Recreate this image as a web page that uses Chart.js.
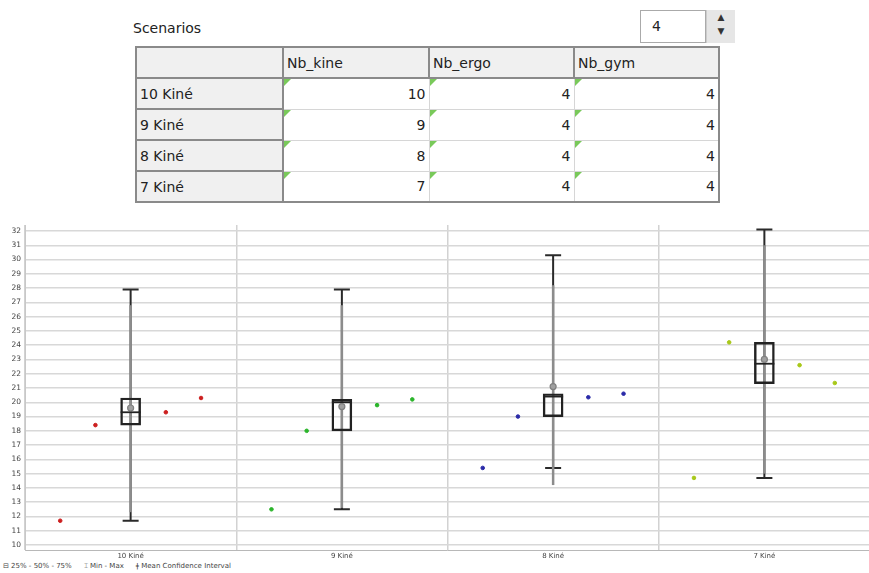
<!DOCTYPE html>
<html>
<head>
<meta charset="utf-8">
<script src="https://cdn.jsdelivr.net/npm/chart.js@4"></script>
<style>
  body { margin: 0; background: #fff; width: 869px; height: 573px; position: relative; overflow: hidden; font-family: "DejaVu Sans", sans-serif; }
  #title { position: absolute; left: 133px; top: 20px; font-size: 14px; color: #222; }
  #spin { position: absolute; left: 640px; top: 10px; width: 64px; height: 31px; border: 1px solid #aaa; background: #fff; font-size: 14px; color: #222; }
  #spin span { position: absolute; left: 11px; top: 7px; }
  #spinBtn { position: absolute; left: 706px; top: 10px; width: 28px; height: 33px; background: #e6e6e6; border-left: 1px solid #ccc; font-size: 9px; color: #333; text-align: center; line-height: 14px; }
  #scen { position: absolute; left: 135px; top: 46px; width: 583px; border-collapse: collapse; table-layout: fixed; font-size: 14px; color: #222; border: 2px solid #8a8a8a; }
  #scen td, #scen th { height: 29px; padding: 0 3px; border: 1px solid #d6d6d6; position: relative; font-weight: normal; }
  #scen th { background: #f0f0f0; text-align: left; border: 2px solid #8a8a8a; }
  #scen td.rh { background: #f0f0f0; border: 2px solid #8a8a8a; text-align: left; }
  #scen td.v { text-align: right; background: #fff; }
  #scen td.v::before { content: ""; position: absolute; left: 0; top: 0; border-top: 7px solid #79c95a; border-right: 7px solid transparent; }
  #chart { position: absolute; left: 0; top: 215px; }
  #legend { position: absolute; left: 3px; top: 562px; font-size: 7px; color: #444; white-space: nowrap; }
  #legend span { margin-right: 12px; }
</style>
</head>
<body>
<div id="title">Scenarios</div>
<div id="spin"><span>4</span></div>
<div id="spinBtn">▲<br>▼</div>
<table id="scen">
  <colgroup><col style="width:147px"><col style="width:146px"><col style="width:145px"><col style="width:145px"></colgroup>
  <thead><tr><th></th><th>Nb_kine</th><th>Nb_ergo</th><th>Nb_gym</th></tr></thead>
  <tbody id="scenBody"></tbody>
</table>
<canvas id="chart" width="875" height="347"></canvas>
<div id="legend"><span>⊟ 25% - 50% - 75%</span><span>⌶ Min - Max</span><span>ǂ Mean Confidence Interval</span></div>
<script>
// table values
const scenarioNames = ["10 Kiné", "9 Kiné", "8 Kiné", "7 Kiné"];
const nbKine = [10, 9, 8, 7];
const nbErgo = [4, 4, 4, 4];
const nbGym = [4, 4, 4, 4];

// box plot values
const categories = ["10 Kiné", "9 Kiné", "8 Kiné", "7 Kiné"];
const q1Vals = [18.4, 18.0, 19.0, 21.3];
const medianVals = [19.3, 20.0, 20.4, 22.7];
const q3Vals = [20.3, 20.2, 20.6, 24.2];
const minVals = [11.7, 12.5, 15.4, 14.7];
const maxVals = [27.9, 27.9, 30.3, 32.1];
const meanVals = [19.6, 19.7, 21.1, 23.0];
const ciLow = [12.3, 12.6, 14.2, 15.0];
const ciHigh = [26.8, 26.8, 28.2, 31.0];

// single runs around each box
const pointSlots = [-2 / 6, -1 / 6, 1 / 6, 2 / 6];
const runs10 = [11.7, 18.4, 19.3, 20.3];
const runs9 = [12.5, 18.0, 19.8, 20.2];
const runs8 = [15.4, 19.0, 20.35, 20.6];
const runs7 = [14.7, 24.2, 22.6, 21.35];
const runColors = ["#cc1f1f", "#2bb52b", "#2a2aa8", "#a8c81a"];

const yTicks = [10, 11, 12, 13, 14, 15, 16, 17, 18, 19, 20, 21, 22, 23, 24, 25, 26, 27, 28, 29, 30, 31, 32];

const tbody = document.getElementById("scenBody");
scenarioNames.forEach((name, i) => {
  const row = tbody.insertRow();
  const c0 = row.insertCell(0);
  c0.className = "rh";
  c0.textContent = name;
  [nbKine[i], nbErgo[i], nbGym[i]].forEach((v, j) => {
    const c = row.insertCell(j + 1);
    c.className = "v";
    c.textContent = v;
  });
});

const runSets = [runs10, runs9, runs8, runs7];
const pointDatasets = runSets.map((runs, i) => ({
  type: "scatter",
  data: runs.map((v, k) => ({ x: i + pointSlots[k], y: v })),
  backgroundColor: runColors[i],
  borderColor: runColors[i],
  pointRadius: 1.8,
  order: 0,
}));

const boxExtras = {
  id: "boxExtras",
  beforeDatasetsDraw(chart) {
    const ctx = chart.ctx;
    const xs = chart.scales.x;
    const ys = chart.scales.y;
    ctx.save();
    categories.forEach((c, i) => {
      const x = xs.getPixelForValue(i);
      ctx.strokeStyle = "#2a2a2a";
      ctx.lineWidth = 2;
      ctx.beginPath();
      ctx.moveTo(x, ys.getPixelForValue(minVals[i]));
      ctx.lineTo(x, ys.getPixelForValue(maxVals[i]));
      [minVals[i], maxVals[i]].forEach((v) => {
        const y = ys.getPixelForValue(v);
        ctx.moveTo(x - 8, y);
        ctx.lineTo(x + 8, y);
      });
      ctx.stroke();
      ctx.strokeStyle = "#8c8c8c";
      ctx.lineWidth = 2.5;
      ctx.beginPath();
      ctx.moveTo(x, ys.getPixelForValue(ciLow[i]));
      ctx.lineTo(x, ys.getPixelForValue(ciHigh[i]));
      ctx.stroke();
    });
    ctx.restore();
  },
  afterDatasetsDraw(chart) {
    const ctx = chart.ctx;
    const xs = chart.scales.x;
    const ys = chart.scales.y;
    ctx.save();
    categories.forEach((c, i) => {
      const x = xs.getPixelForValue(i);
      const ym = ys.getPixelForValue(medianVals[i]);
      ctx.strokeStyle = "#222";
      ctx.lineWidth = 1.8;
      ctx.beginPath();
      ctx.moveTo(x - 10, ym);
      ctx.lineTo(x + 10, ym);
      ctx.stroke();
      ctx.fillStyle = "#a0a0a0";
      ctx.strokeStyle = "#808080";
      ctx.lineWidth = 1.2;
      ctx.beginPath();
      ctx.arc(x, ys.getPixelForValue(meanVals[i]), 3, 0, Math.PI * 2);
      ctx.fill();
      ctx.stroke();
    });
    ctx.restore();
  },
};

new Chart(document.getElementById("chart"), {
  type: "bar",
  data: {
    datasets: [
      {
        type: "bar",
        data: categories.map((c, i) => ({ x: i, y: [q1Vals[i], q3Vals[i]] })),
        backgroundColor: "rgba(255,255,255,0)",
        borderColor: "#222",
        borderWidth: 1.8,
        borderSkipped: false,
        barThickness: 20,
        order: 1,
      },
      ...pointDatasets,
    ],
  },
  options: {
    responsive: false,
    animation: false,
    devicePixelRatio: 1,
    layout: { padding: { top: 10, right: 0, bottom: 0, left: 0 } },
    plugins: { legend: { display: false }, tooltip: { enabled: false } },
    scales: {
      x: {
        type: "linear",
        offset: false,
        min: -0.5,
        max: 3.5,
        afterBuildTicks: (scale) => {
          const t = [];
          for (let v = -0.5; v <= 3.5; v += 0.5) t.push({ value: v });
          scale.ticks = t;
        },
        afterFit: (scale) => { scale.height = 12; },
        grid: {
          offset: false,
          color: (ctx) => (ctx.tick && ctx.tick.value % 1 !== 0 ? "#d2d2d2" : "rgba(0,0,0,0)"),
          lineWidth: 1.5,
          drawTicks: false,
        },
        border: { display: true, color: "#b8b8b8", width: 1 },
        ticks: {
          autoSkip: false,
          maxRotation: 0,
          padding: 2,
          color: "#444",
          font: { family: "DejaVu Sans", size: 7 },
          callback: (v) => (Number.isInteger(v) ? categories[v] : ""),
        },
      },
      y: {
        min: 9.65,
        max: 32.42,
        afterBuildTicks: (scale) => {
          scale.ticks = yTicks.map((v) => ({ value: v }));
        },
        afterFit: (scale) => { scale.width = 25; },
        grid: { color: "#d8d8d8", lineWidth: 1.5, drawTicks: false },
        border: { display: true, color: "#c8c8c8", width: 1 },
        ticks: {
          padding: 4,
          color: "#444",
          font: { family: "DejaVu Sans", size: 7.5 },
        },
      },
    },
  },
  plugins: [boxExtras],
});
</script>
</body>
</html>
